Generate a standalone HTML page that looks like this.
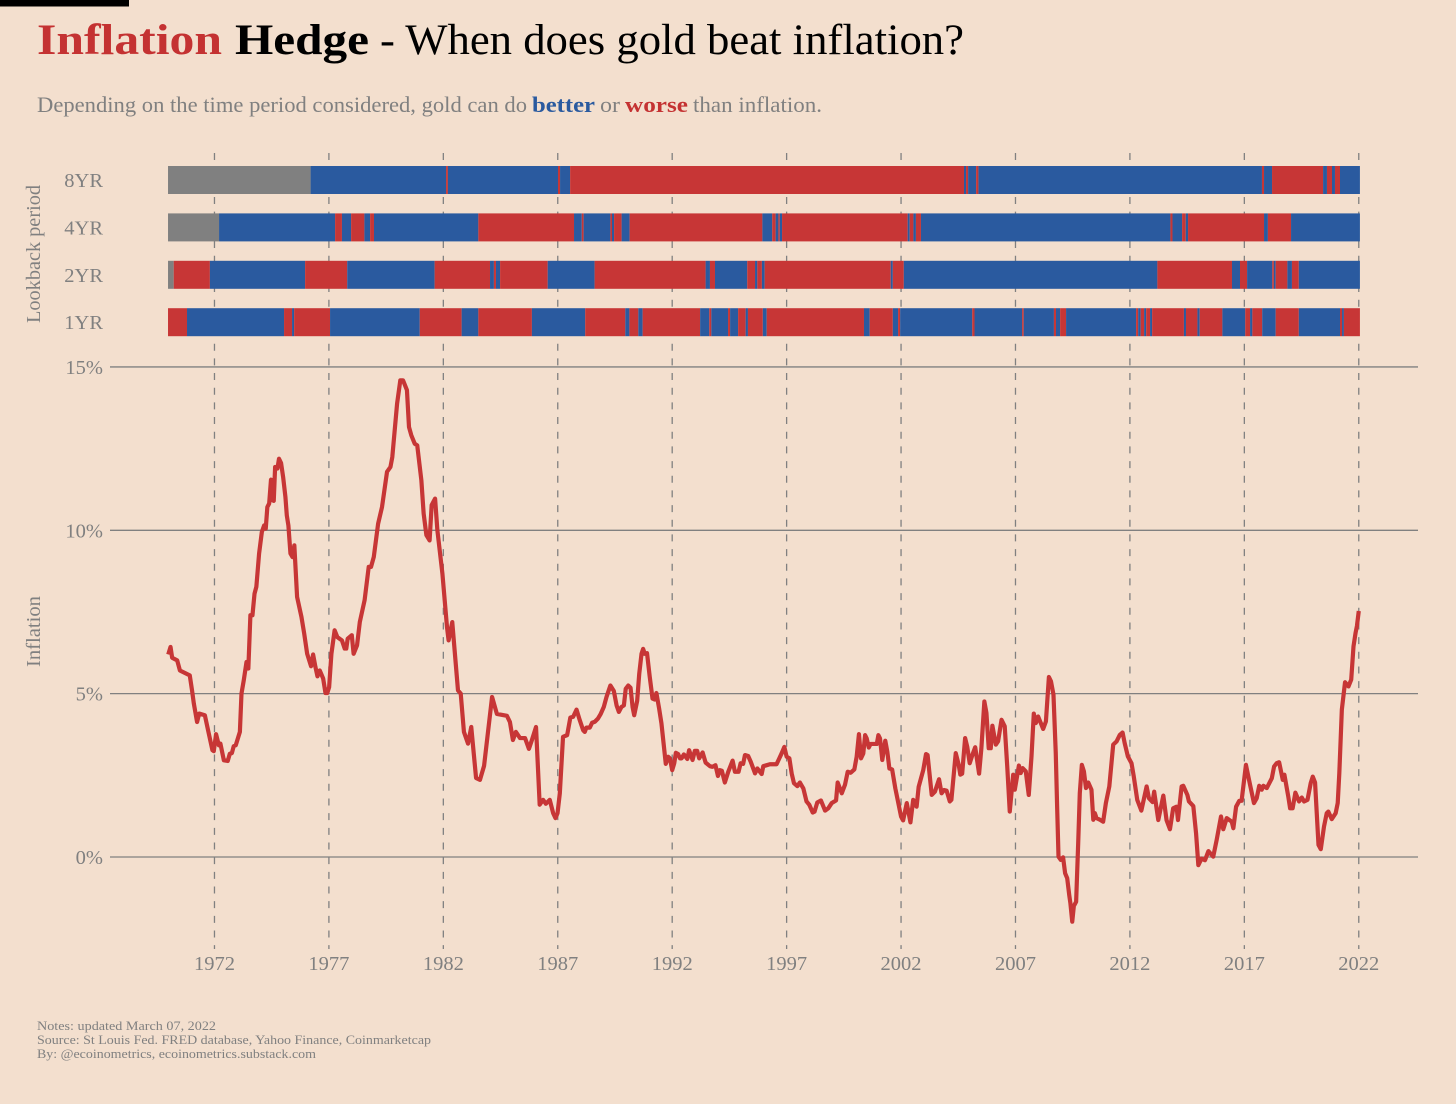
<!DOCTYPE html>
<html lang="en">
<head>
<meta charset="utf-8">
<title>Inflation Hedge - When does gold beat inflation?</title>
<style>
html,body{margin:0;padding:0;background:#F3DFCE;}
svg{display:block;font-family:"Liberation Serif",serif;}
</style>
</head>
<body>
<svg id="chart" xmlns="http://www.w3.org/2000/svg" width="1456" height="1104" viewBox="0 0 1456 1104">
  <rect x="0" y="0" width="1456" height="1104" fill="#F3DFCE"/>
  <rect x="0" y="0" width="129" height="6.5" fill="#000"/>
  <g font-size="43">
    <text x="37" y="54" font-weight="700" fill="#C43232" textLength="185" lengthAdjust="spacingAndGlyphs">Inflation</text>
    <text x="235" y="54" font-weight="700" fill="#000" textLength="134" lengthAdjust="spacingAndGlyphs">Hedge</text>
    <text x="380" y="54" fill="#000" textLength="584" lengthAdjust="spacingAndGlyphs">- When does gold beat inflation?</text>
  </g>
  <g font-size="22" fill="#808080">
    <text x="37" y="112" textLength="490" lengthAdjust="spacingAndGlyphs">Depending on the time period considered, gold can do</text>
    <text x="532" y="112" font-weight="700" fill="#2A5A9F" textLength="63" lengthAdjust="spacingAndGlyphs">better</text>
    <text x="600" y="112" textLength="20" lengthAdjust="spacingAndGlyphs">or</text>
    <text x="625" y="112" font-weight="700" fill="#C43232" textLength="63" lengthAdjust="spacingAndGlyphs">worse</text>
    <text x="693" y="112" textLength="129" lengthAdjust="spacingAndGlyphs">than inflation.</text>
  </g>
  <g id="grid"></g>
  <g id="bars"></g>
  <g id="series"></g>
  <g id="labels" font-size="20.5" fill="#808080"></g>
  <text transform="translate(40,323) rotate(-90)" font-size="20" fill="#808080" textLength="138" lengthAdjust="spacingAndGlyphs">Lookback period</text>
  <text transform="translate(40,667) rotate(-90)" font-size="20" fill="#808080" textLength="71" lengthAdjust="spacingAndGlyphs">Inflation</text>
  <g font-size="13" fill="#808080">
    <text x="37" y="1030" textLength="179" lengthAdjust="spacingAndGlyphs">Notes: updated March 07, 2022</text>
    <text x="37" y="1044" textLength="394" lengthAdjust="spacingAndGlyphs">Source: St Louis Fed. FRED database, Yahoo Finance, Coinmarketcap</text>
    <text x="37" y="1058" textLength="279" lengthAdjust="spacingAndGlyphs">By: @ecoinometrics, ecoinometrics.substack.com</text>
  </g>
</svg>
<script>
const xTickYears = [1972,1977,1982,1987,1992,1997,2002,2007,2012,2017,2022];
const yTickValues = [0,5,10,15];
const lookbackNames = ["8YR","4YR","2YR","1YR"];
const barEndYear = 2022.05;

const starts8 = [1969.97,1976.20,1982.12,1982.20,1987.01,1987.10,1987.54,2004.75,2004.84,2004.93,2005.28,2005.38,2017.77,2017.86,2018.21,2020.44,2020.61,2020.83,2020.96,2021.18];
const states8 = "nbrbrbrbrbrbrbrbrbrb".split("");

const starts4 = [1969.97,1972.20,1977.27,1977.57,1977.97,1978.55,1978.80,1978.97,1983.53,1987.71,1988.05,1988.13,1989.30,1989.37,1989.46,1989.79,1990.14,1995.94,1996.37,1996.52,1996.64,1996.70,1996.80,2002.29,2002.38,2002.54,2002.65,2002.87,2013.77,2013.86,2014.28,2014.44,2014.54,2017.86,2018.03,2019.04];
const states4 = "nbrbrbrbrbrbrbrbrbrbrbrbrbrbrbrbrbrb".split("");

const starts2 = [1969.97,1970.22,1971.80,1975.96,1977.80,1981.62,1984.04,1984.21,1984.30,1984.48,1986.56,1988.61,1993.46,1993.65,1993.87,1995.28,1995.62,1995.72,1995.92,1996.04,2001.55,2001.64,2002.12,2013.20,2016.46,2016.81,2017.12,2018.22,2018.29,2018.37,2018.88,2019.08,2019.38];
const states2 = "nrbrbrbrbrbrbrbrbrbrbrbrbrbrbrbrb".split("");

const starts1 = [1969.97,1970.80,1975.04,1975.39,1975.48,1977.05,1980.97,1982.80,1983.53,1985.87,1988.20,1989.95,1990.13,1990.52,1990.71,1993.22,1993.62,1993.71,1994.44,1994.53,1994.88,1995.21,1995.31,1995.96,1996.13,2000.38,2000.63,2001.64,2001.87,2001.96,2005.11,2005.21,2007.29,2007.36,2008.68,2008.77,2008.95,2009.21,2012.27,2012.36,2012.47,2012.62,2012.71,2012.88,2012.97,2014.36,2014.45,2014.95,2015.05,2016.04,2017.04,2017.25,2017.35,2017.78,2018.37,2019.38,2021.18,2021.27,2021.35];
const states1 = "rbrbrbrbrbrbrbrbrbrbrbrbrbrbrbrbrbrbrbrbrbrbrbrbrbrbrbrbrbr".split("");

const inflationYears = [1969.98,1970.08,1970.15,1970.37,1970.49,1970.92,1971.02,1971.10,1971.24,1971.33,1971.58,1971.72,1971.91,1971.97,1972.07,1972.19,1972.26,1972.41,1972.58,1972.67,1972.76,1972.84,1972.93,1973.11,1973.18,1973.28,1973.40,1973.48,1973.57,1973.66,1973.75,1973.83,1973.95,1974.07,1974.17,1974.24,1974.31,1974.39,1974.47,1974.53,1974.59,1974.65,1974.75,1974.82,1974.91,1975.00,1975.10,1975.16,1975.23,1975.32,1975.41,1975.49,1975.61,1975.80,1975.92,1976.05,1976.22,1976.31,1976.41,1976.50,1976.60,1976.75,1976.85,1976.93,1977.01,1977.11,1977.25,1977.37,1977.57,1977.69,1977.76,1977.82,1978.00,1978.08,1978.23,1978.35,1978.56,1978.74,1978.84,1978.96,1979.15,1979.32,1979.54,1979.69,1979.77,1979.98,1980.12,1980.24,1980.41,1980.50,1980.60,1980.75,1980.86,1981.04,1981.14,1981.26,1981.40,1981.49,1981.64,1981.74,1981.96,1982.16,1982.23,1982.39,1982.64,1982.76,1982.90,1983.08,1983.22,1983.43,1983.60,1983.78,1984.13,1984.34,1984.78,1984.91,1985.04,1985.17,1985.35,1985.57,1985.74,1985.87,1986.05,1986.21,1986.36,1986.48,1986.65,1986.80,1986.90,1986.99,1987.09,1987.23,1987.41,1987.55,1987.67,1987.82,1987.96,1988.11,1988.18,1988.25,1988.40,1988.50,1988.62,1988.76,1988.87,1989.01,1989.13,1989.30,1989.45,1989.57,1989.67,1989.78,1989.89,1989.97,1990.08,1990.18,1990.27,1990.34,1990.47,1990.56,1990.66,1990.73,1990.80,1990.90,1991.02,1991.14,1991.24,1991.31,1991.43,1991.53,1991.72,1991.82,1991.90,1992.00,1992.09,1992.16,1992.26,1992.34,1992.41,1992.51,1992.66,1992.74,1992.89,1992.99,1993.09,1993.18,1993.33,1993.46,1993.65,1993.76,1993.89,1994.00,1994.08,1994.17,1994.30,1994.45,1994.64,1994.74,1994.90,1994.99,1995.10,1995.18,1995.32,1995.43,1995.62,1995.72,1995.91,1995.98,1996.13,1996.27,1996.46,1996.56,1996.68,1996.78,1996.90,1997.00,1997.12,1997.22,1997.32,1997.47,1997.58,1997.73,1997.87,1997.99,1998.14,1998.22,1998.34,1998.50,1998.68,1998.82,1998.97,1999.16,1999.23,1999.41,1999.55,1999.67,1999.80,1999.96,2000.06,2000.16,2000.25,2000.35,2000.43,2000.50,2000.59,2000.67,2000.94,2001.01,2001.08,2001.18,2001.31,2001.40,2001.49,2001.61,2001.75,2002.00,2002.09,2002.25,2002.41,2002.53,2002.68,2002.77,2002.97,2003.09,2003.16,2003.34,2003.48,2003.66,2003.77,2003.88,2003.99,2004.13,2004.20,2004.39,2004.52,2004.59,2004.67,2004.80,2004.89,2005.00,2005.12,2005.24,2005.41,2005.51,2005.64,2005.73,2005.83,2005.92,2005.99,2006.14,2006.24,2006.39,2006.53,2006.64,2006.75,2006.90,2006.97,2007.15,2007.23,2007.31,2007.45,2007.58,2007.70,2007.80,2007.89,2007.99,2008.21,2008.33,2008.46,2008.55,2008.66,2008.76,2008.82,2008.88,2008.98,2009.08,2009.17,2009.26,2009.35,2009.40,2009.48,2009.55,2009.65,2009.74,2009.81,2009.90,2009.99,2010.08,2010.18,2010.32,2010.40,2010.47,2010.54,2010.69,2010.83,2010.95,2011.10,2011.27,2011.42,2011.56,2011.68,2011.77,2011.91,2012.07,2012.17,2012.32,2012.50,2012.73,2012.83,2012.99,2013.06,2013.24,2013.46,2013.60,2013.75,2013.89,2014.04,2014.10,2014.26,2014.33,2014.51,2014.58,2014.77,2014.89,2014.99,2015.13,2015.28,2015.43,2015.64,2015.79,2015.98,2016.08,2016.23,2016.45,2016.52,2016.64,2016.78,2016.88,2017.07,2017.25,2017.42,2017.54,2017.65,2017.76,2017.83,2017.98,2018.20,2018.30,2018.41,2018.52,2018.68,2018.75,2018.92,2019.00,2019.11,2019.23,2019.39,2019.51,2019.61,2019.76,2019.90,2019.99,2020.09,2020.24,2020.34,2020.48,2020.60,2020.67,2020.82,2020.99,2021.08,2021.15,2021.26,2021.40,2021.55,2021.67,2021.77,2021.86,2021.92,2022.00];
const inflationValues = [6.20,6.43,6.10,6.02,5.71,5.56,5.10,4.69,4.13,4.39,4.34,3.88,3.27,3.24,3.76,3.42,3.47,2.96,2.94,3.16,3.18,3.39,3.42,3.83,5.00,5.41,5.97,5.77,7.40,7.40,8.06,8.27,9.29,9.95,10.15,10.05,10.71,10.82,11.55,10.92,10.90,11.94,11.89,12.19,12.06,11.63,11.02,10.46,10.15,9.29,9.18,9.54,7.96,7.35,6.84,6.22,5.84,6.20,5.82,5.53,5.71,5.46,5.02,5.02,5.20,6.22,6.94,6.73,6.63,6.38,6.38,6.68,6.79,6.22,6.48,7.19,7.86,8.88,8.88,9.18,10.20,10.71,11.79,11.94,12.24,13.88,14.59,14.59,14.29,13.16,12.91,12.65,12.60,11.53,10.51,9.85,9.69,10.77,10.97,10.00,8.67,7.04,6.63,7.19,5.10,5.00,3.83,3.47,3.98,2.42,2.36,2.79,4.90,4.38,4.32,4.13,3.58,3.83,3.64,3.64,3.31,3.58,3.98,1.60,1.75,1.63,1.75,1.34,1.19,1.34,1.95,3.68,3.73,4.27,4.29,4.51,4.19,3.88,3.83,3.96,3.96,4.11,4.14,4.24,4.37,4.59,4.90,5.25,5.08,4.64,4.44,4.59,4.64,5.15,5.25,5.18,4.59,4.34,4.78,5.61,6.22,6.37,6.22,6.24,5.51,4.85,4.82,5.02,4.54,4.09,2.85,3.07,3.02,2.66,2.87,3.19,3.15,3.02,3.02,3.14,3.00,3.27,2.97,3.25,3.25,3.02,3.20,2.89,2.78,2.76,2.81,2.48,2.66,2.64,2.28,2.61,2.95,2.61,2.61,2.87,2.85,3.12,3.09,2.92,2.56,2.71,2.54,2.78,2.81,2.84,2.84,2.84,3.02,3.17,3.37,3.07,3.02,2.56,2.26,2.17,2.28,2.10,1.70,1.60,1.36,1.39,1.67,1.73,1.42,1.49,1.65,1.73,2.28,1.95,2.21,2.61,2.58,2.68,3.07,3.76,3.02,3.17,3.73,3.63,3.35,3.46,3.46,3.73,3.63,2.97,3.56,3.22,2.71,2.68,2.10,1.24,1.12,1.65,1.06,1.75,1.54,2.15,2.66,3.15,3.12,1.90,2.00,2.38,1.95,2.05,2.03,1.70,1.75,3.18,2.82,2.52,2.55,3.64,3.38,2.87,3.13,3.36,2.55,3.33,4.76,4.41,3.33,3.33,4.02,3.44,3.54,4.20,4.00,2.77,1.39,2.52,2.06,2.80,2.57,2.72,2.62,1.90,3.08,4.39,4.10,4.30,3.92,4.15,5.51,5.38,4.97,3.18,1.54,0.01,-0.09,-0.01,-0.50,-0.65,-1.17,-1.42,-1.98,-1.50,-1.37,0.42,1.95,2.82,2.62,2.11,2.28,2.06,1.14,1.34,1.19,1.14,1.08,1.65,2.16,3.44,3.54,3.74,3.81,3.49,3.08,2.87,2.46,1.75,1.42,2.16,1.80,1.68,2.00,1.13,1.88,1.13,0.85,1.49,1.54,1.13,2.16,2.18,1.90,1.70,1.56,0.73,-0.25,-0.05,-0.10,0.18,0.01,0.52,1.24,0.85,1.19,1.08,0.88,1.54,1.72,1.72,2.82,2.21,1.65,1.80,2.18,2.06,2.18,2.11,2.41,2.77,2.87,2.90,2.36,2.52,1.85,1.49,1.49,1.97,1.70,1.82,1.70,1.75,2.26,2.46,2.28,0.37,0.24,0.93,1.34,1.39,1.16,1.34,1.65,2.57,4.51,5.35,5.22,5.43,6.45,6.86,7.07,7.53];

const SVG_NS = "http://www.w3.org/2000/svg";
const stateColors = {n:"#808080", b:"#2A5A9F", r:"#C73636"};

function xScale(year){ return 168.7 + (year - 1970) * 22.886; }
function yScale(value){ return 857 - value * 32.67; }

const gridGroup = document.getElementById("grid");
const barsGroup = document.getElementById("bars");
const seriesGroup = document.getElementById("series");
const labelsGroup = document.getElementById("labels");

yTickValues.forEach(function(v){
  const line = document.createElementNS(SVG_NS, "line");
  
  
  line.setAttribute("x1", 110);
  line.setAttribute("x2", 1418);
  line.setAttribute("y1", yScale(v));
  line.setAttribute("y2", yScale(v));
  line.setAttribute("stroke", "#808080");
  line.setAttribute("stroke-width", 1.3);
  gridGroup.appendChild(line);

  const label = document.createElementNS(SVG_NS, "text");
  
  
  label.setAttribute("x", 103);
  label.setAttribute("y", yScale(v) + 7);
  label.setAttribute("text-anchor", "end");
  label.textContent = v + "%";
  labelsGroup.appendChild(label);
});

xTickYears.forEach(function(y){
  const line = document.createElementNS(SVG_NS, "line");
  
  
  line.setAttribute("x1", xScale(y));
  line.setAttribute("x2", xScale(y));
  line.setAttribute("y1", 153);
  line.setAttribute("y2", 949);
  line.setAttribute("stroke", "#808080");
  line.setAttribute("stroke-width", 1.3);
  line.setAttribute("stroke-dasharray", "7 7.67");
  gridGroup.appendChild(line);

  const label = document.createElementNS(SVG_NS, "text");
  
  
  label.setAttribute("x", xScale(y));
  label.setAttribute("y", 970);
  label.setAttribute("text-anchor", "middle");
  label.textContent = y;
  labelsGroup.appendChild(label);
});

function drawRow(name, rowIndex, starts, states){
  const top = 166 + rowIndex * 47.4;
  const rowLabel = document.createElementNS(SVG_NS, "text");
  
  
  rowLabel.setAttribute("x", 103);
  rowLabel.setAttribute("y", top + 21);
  rowLabel.setAttribute("text-anchor", "end");
  rowLabel.textContent = name;
  labelsGroup.appendChild(rowLabel);
  starts.forEach(function(start, i){
    const end = i + 1 < starts.length ? starts[i + 1] : barEndYear;
    const rect = document.createElementNS(SVG_NS, "rect");
    
    
    rect.setAttribute("x", xScale(start));
    rect.setAttribute("y", top);
    rect.setAttribute("width", xScale(end) - xScale(start));
    rect.setAttribute("height", 28);
    rect.setAttribute("fill", stateColors[states[i]]);
    barsGroup.appendChild(rect);
  });
}
drawRow(lookbackNames[0], 0, starts8, states8);
drawRow(lookbackNames[1], 1, starts4, states4);
drawRow(lookbackNames[2], 2, starts2, states2);
drawRow(lookbackNames[3], 3, starts1, states1);

const inflationLine = document.createElementNS(SVG_NS, "polyline");


inflationLine.setAttribute("points", inflationYears.map(function(y, i){
  return xScale(y).toFixed(2) + "," + yScale(inflationValues[i]).toFixed(2);
}).join(" "));
inflationLine.setAttribute("fill", "none");
inflationLine.setAttribute("stroke", "#C73636");
inflationLine.setAttribute("stroke-width", 4.2);
inflationLine.setAttribute("stroke-linejoin", "round");
seriesGroup.appendChild(inflationLine);
</script>
</body>
</html>
